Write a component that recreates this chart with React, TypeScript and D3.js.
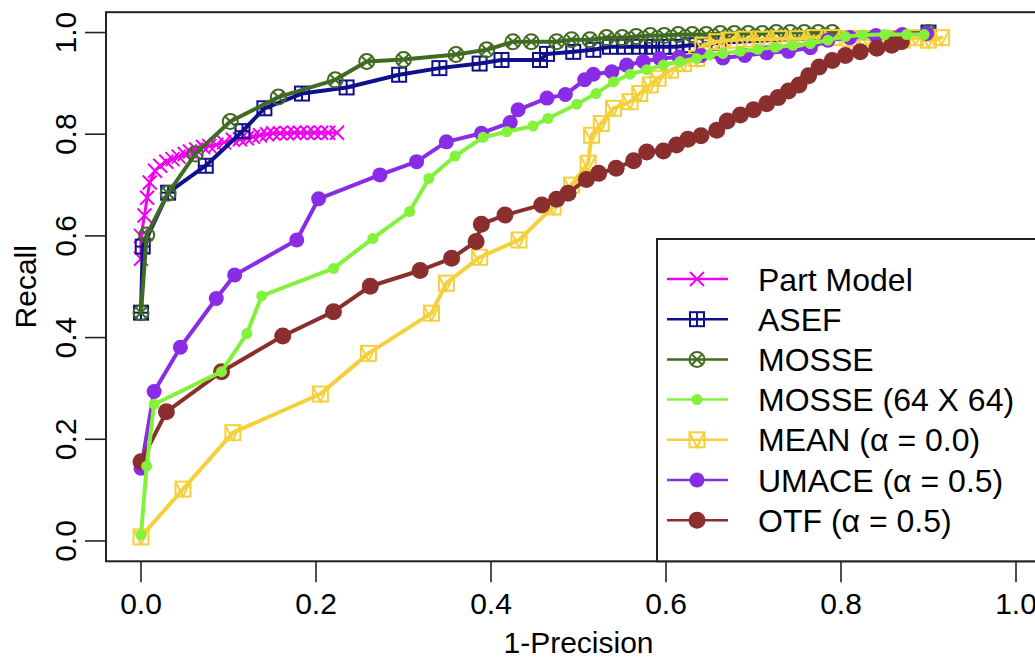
import React from 'react';
import * as d3 from 'd3';

type P = [number, number];

const xTicks = [0, 0.2, 0.4, 0.6, 0.8, 1.0];
const yTicks = [0, 0.2, 0.4, 0.6, 0.8, 1.0];
const xTitle = '1-Precision';
const yTitle = 'Recall';

const partModel: P[] = [
  [0.0, 0.555], [0.0, 0.6], [0.004, 0.64], [0.007, 0.675], [0.01, 0.705], [0.016, 0.728],
  [0.022, 0.738], [0.029, 0.746], [0.036, 0.751], [0.043, 0.756], [0.05, 0.761], [0.056, 0.766],
  [0.063, 0.77], [0.071, 0.775], [0.078, 0.777], [0.086, 0.779], [0.095, 0.784], [0.105, 0.789],
  [0.113, 0.79], [0.121, 0.792], [0.128, 0.795], [0.136, 0.798], [0.144, 0.8], [0.151, 0.802],
  [0.159, 0.802], [0.167, 0.802], [0.175, 0.803], [0.182, 0.803], [0.19, 0.803], [0.198, 0.803],
  [0.206, 0.803], [0.214, 0.803], [0.224, 0.803],
];

const asef: P[] = [
  [0.0, 0.449], [0.002, 0.579], [0.031, 0.685], [0.074, 0.738], [0.116, 0.806], [0.141, 0.851],
  [0.184, 0.88], [0.235, 0.892], [0.295, 0.917], [0.341, 0.93], [0.387, 0.939], [0.412, 0.946],
  [0.456, 0.946], [0.464, 0.958], [0.494, 0.962], [0.517, 0.966], [0.536, 0.972], [0.553, 0.972],
  [0.57, 0.972], [0.584, 0.972], [0.597, 0.972], [0.612, 0.972], [0.627, 0.975], [0.642, 0.975],
  [0.66, 0.98], [0.9, 1.0],
];

const mosse: P[] = [
  [0.0, 0.449], [0.0065, 0.602], [0.031, 0.684], [0.062, 0.761], [0.102, 0.825], [0.157, 0.873],
  [0.222, 0.907], [0.258, 0.943], [0.3, 0.947], [0.36, 0.957], [0.395, 0.966], [0.425, 0.982],
  [0.446, 0.982], [0.475, 0.982], [0.492, 0.986], [0.513, 0.986], [0.532, 0.99], [0.55, 0.99],
  [0.566, 0.992], [0.582, 0.994], [0.598, 0.994], [0.614, 0.996], [0.63, 0.996], [0.646, 0.996],
  [0.662, 0.998], [0.678, 0.998], [0.694, 0.998], [0.71, 0.998], [0.726, 1.0], [0.742, 1.0],
  [0.758, 1.0], [0.774, 1.0], [0.79, 1.0], [0.9, 1.0],
];

const mosse64: P[] = [
  [0.0, 0.012], [0.0065, 0.147], [0.015, 0.269], [0.092, 0.333], [0.121, 0.408], [0.138, 0.482],
  [0.22, 0.536], [0.265, 0.595], [0.307, 0.648], [0.329, 0.713], [0.359, 0.757], [0.391, 0.794],
  [0.418, 0.805], [0.448, 0.816], [0.465, 0.831], [0.498, 0.859], [0.52, 0.88], [0.54, 0.903],
  [0.559, 0.918], [0.578, 0.927], [0.597, 0.936], [0.616, 0.943], [0.635, 0.949], [0.65, 0.956],
  [0.665, 0.959], [0.685, 0.963], [0.705, 0.967], [0.725, 0.971], [0.745, 0.975], [0.765, 0.978],
  [0.785, 0.985], [0.805, 0.992], [0.825, 0.995], [0.85, 0.996], [0.875, 0.996], [0.895, 0.996],
];

const mean: P[] = [
  [0.0, 0.008], [0.048, 0.102], [0.105, 0.213], [0.205, 0.289], [0.26, 0.369], [0.332, 0.448],
  [0.349, 0.507], [0.387, 0.558], [0.432, 0.592], [0.471, 0.657], [0.492, 0.7], [0.511, 0.743],
  [0.515, 0.798], [0.526, 0.821], [0.54, 0.851], [0.559, 0.864], [0.57, 0.88], [0.582, 0.897],
  [0.591, 0.91], [0.605, 0.926], [0.62, 0.939], [0.635, 0.949], [0.642, 0.975], [0.658, 0.982],
  [0.672, 0.985], [0.69, 0.987], [0.71, 0.987], [0.73, 0.988], [0.75, 0.988], [0.77, 0.99],
  [0.79, 0.99], [0.81, 0.988], [0.83, 0.988], [0.85, 0.987], [0.87, 0.985], [0.885, 0.99],
  [0.9, 0.985], [0.915, 0.99],
];

const umace: P[] = [
  [0.0, 0.143], [0.015, 0.294], [0.045, 0.381], [0.086, 0.477], [0.107, 0.523], [0.178, 0.592],
  [0.203, 0.673], [0.273, 0.72], [0.315, 0.746], [0.349, 0.785], [0.389, 0.802], [0.422, 0.823],
  [0.431, 0.848], [0.464, 0.871], [0.485, 0.878], [0.507, 0.907], [0.517, 0.918], [0.538, 0.923],
  [0.555, 0.936], [0.574, 0.943], [0.593, 0.949], [0.615, 0.952], [0.64, 0.955], [0.665, 0.95],
  [0.69, 0.955], [0.715, 0.96], [0.74, 0.963], [0.765, 0.97], [0.785, 0.985], [0.81, 0.99],
  [0.84, 0.994], [0.87, 0.996], [0.898, 0.998],
];

const otf: P[] = [
  [0.0, 0.156], [0.029, 0.254], [0.092, 0.333], [0.162, 0.403], [0.22, 0.451], [0.262, 0.501],
  [0.319, 0.532], [0.355, 0.556], [0.383, 0.589], [0.389, 0.623], [0.416, 0.641], [0.458, 0.661],
  [0.475, 0.672], [0.488, 0.684], [0.509, 0.711], [0.523, 0.723], [0.543, 0.733], [0.563, 0.748],
  [0.578, 0.765], [0.597, 0.767], [0.612, 0.779], [0.625, 0.79], [0.64, 0.797], [0.658, 0.808],
  [0.67, 0.826], [0.685, 0.838], [0.7, 0.848], [0.715, 0.86], [0.728, 0.872], [0.74, 0.885],
  [0.752, 0.897], [0.763, 0.915], [0.775, 0.932], [0.79, 0.945], [0.805, 0.955], [0.822, 0.962],
  [0.841, 0.969], [0.858, 0.975], [0.869, 0.982],
];

const seriesNames = ['Part Model', 'ASEF', 'MOSSE', 'MOSSE (64 X 64)', 'MEAN (α = 0.0)', 'UMACE (α = 0.5)', 'OTF (α = 0.5)'];

type Marker = 'x' | 'sqplus' | 'circx' | 'dot' | 'sqtri';
interface Series { name: string; data: P[]; color: string; marker: Marker; size: number; lw: number; }

const series: Series[] = [
  { name: seriesNames[0], data: partModel, color: '#f000f0', marker: 'x', size: 7, lw: 3 },
  { name: seriesNames[1], data: asef, color: '#10108c', marker: 'sqplus', size: 7, lw: 4 },
  { name: seriesNames[2], data: mosse, color: '#426b22', marker: 'circx', size: 7.5, lw: 4 },
  { name: seriesNames[3], data: mosse64, color: '#84f23a', marker: 'dot', size: 5.5, lw: 4 },
  { name: seriesNames[4], data: mean, color: '#f5d03a', marker: 'sqtri', size: 7.5, lw: 4 },
  { name: seriesNames[5], data: umace, color: '#8a2be6', marker: 'dot', size: 7.5, lw: 4 },
  { name: seriesNames[6], data: otf, color: '#8b2e2e', marker: 'dot', size: 8.5, lw: 4 },
];

// draw order (bottom to top)
const drawOrder = [0, 1, 2, 4, 5, 6, 3];

const W = 1035;
const H = 658;
const x = d3.scaleLinear().domain([-0.04, 1.04]).range([106, 1051]);
const y = d3.scaleLinear().domain([-0.04, 1.04]).range([561.3, 12.2]);
const FONT = '"Liberation Sans", Arial, Helvetica, sans-serif';

function MarkerShape({ m, cx, cy, s, color }: { m: Marker; cx: number; cy: number; s: number; color: string }) {
  const sw = 2;
  switch (m) {
    case 'x':
      return (
        <g stroke={color} strokeWidth={sw}>
          <line x1={cx - s} y1={cy - s} x2={cx + s} y2={cy + s} />
          <line x1={cx - s} y1={cy + s} x2={cx + s} y2={cy - s} />
        </g>
      );
    case 'sqplus':
      return (
        <g stroke={color} strokeWidth={sw} fill="none">
          <rect x={cx - s} y={cy - s} width={2 * s} height={2 * s} />
          <line x1={cx - s} y1={cy} x2={cx + s} y2={cy} />
          <line x1={cx} y1={cy - s} x2={cx} y2={cy + s} />
        </g>
      );
    case 'circx': {
      const d = s * Math.SQRT1_2;
      return (
        <g stroke={color} strokeWidth={sw} fill="none">
          <circle cx={cx} cy={cy} r={s} />
          <line x1={cx - d} y1={cy - d} x2={cx + d} y2={cy + d} />
          <line x1={cx - d} y1={cy + d} x2={cx + d} y2={cy - d} />
        </g>
      );
    }
    case 'sqtri':
      return (
        <g stroke={color} strokeWidth={sw} fill="none">
          <rect x={cx - s} y={cy - s} width={2 * s} height={2 * s} />
          <polyline points={`${cx - s},${cy - s} ${cx},${cy + s} ${cx + s},${cy - s}`} />
        </g>
      );
    default:
      return <circle cx={cx} cy={cy} r={s} fill={color} />;
  }
}

export default function App() {
  const line = d3.line<P>().x((d) => x(d[0])).y((d) => y(d[1]));
  const legX = 657;
  const legY = 239;
  const rowY0 = 279;
  const rowStep = 40.2;
  return (
    <svg width={W} height={H} style={{ position: 'absolute', left: 0, top: 0, background: '#fff' }} fontFamily={FONT}>
      <rect x={0} y={0} width={W} height={H} fill="#fff" />
      {drawOrder.map((i) => {
        const s = series[i];
        return (
          <g key={s.name}>
            <path d={line(s.data) || ''} fill="none" stroke={s.color} strokeWidth={s.lw} strokeLinejoin="round" strokeLinecap="round" />
            {s.data.map((d, j) => (
              <MarkerShape key={j} m={s.marker} cx={x(d[0])} cy={y(d[1])} s={s.size} color={s.color} />
            ))}
          </g>
        );
      })}
      {/* plot box */}
      <rect x={x(-0.04)} y={y(1.04)} width={x(1.04) - x(-0.04)} height={y(-0.04) - y(1.04)} fill="none" stroke="#222" strokeWidth={2} />
      {/* x axis */}
      <g>
        {xTicks.map((t) => (
          <g key={t}>
            <line x1={x(t)} x2={x(t)} y1={y(-0.04)} y2={y(-0.04) + 21} stroke="#222" strokeWidth={1.6} />
            <text x={x(t)} y={614} fontSize={30} textAnchor="middle" fill="#000">{t.toFixed(1)}</text>
          </g>
        ))}
        <text x={(x(-0.04) + x(1.04)) / 2} y={653} fontSize={30} textAnchor="middle" fill="#000">{xTitle}</text>
      </g>
      {/* y axis */}
      <g>
        {yTicks.map((t) => (
          <g key={t}>
            <line x1={x(-0.04) - 21} x2={x(-0.04)} y1={y(t)} y2={y(t)} stroke="#222" strokeWidth={1.6} />
            <text transform={`translate(75.5,${y(t)}) rotate(-90)`} fontSize={30} textAnchor="middle" fill="#000">{t.toFixed(1)}</text>
          </g>
        ))}
        <text transform={`translate(36,${(y(-0.04) + y(1.04)) / 2}) rotate(-90)`} fontSize={30} textAnchor="middle" fill="#000">{yTitle}</text>
      </g>
      {/* legend */}
      <g>
        <rect x={legX} y={legY} width={x(1.04) - legX} height={y(-0.04) - legY} fill="#fff" stroke="#222" strokeWidth={2} />
        {series.map((s, i) => {
          const cy = rowY0 + i * rowStep;
          return (
            <g key={s.name}>
              <line x1={667} x2={728} y1={cy} y2={cy} stroke={s.color} strokeWidth={2.5} />
              <MarkerShape m={s.marker} cx={697} cy={cy} s={s.size} color={s.color} />
              <text x={758} y={cy + 11.5} fontSize={32} fill="#000">{s.name}</text>
            </g>
          );
        })}
      </g>
    </svg>
  );
}
